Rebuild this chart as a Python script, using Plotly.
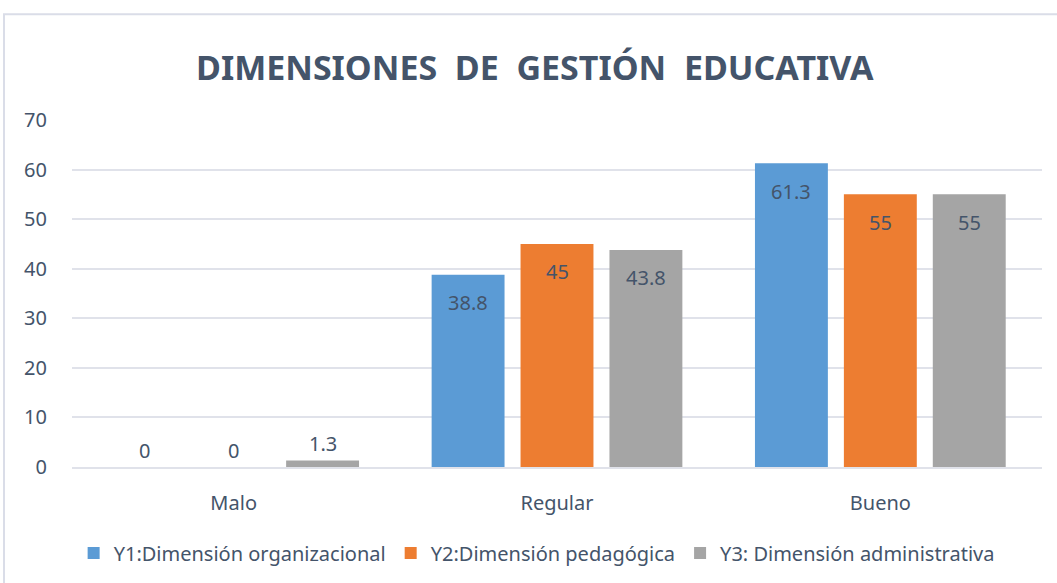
import plotly.graph_objects as go

categories = ["Malo", "Regular", "Bueno"]
series_names = ["Y1:Dimensión organizacional", "Y2:Dimensión pedagógica", "Y3: Dimensión administrativa"]
y1_values = [0, 38.8, 61.3]
y2_values = [0, 45, 55]
y3_values = [1.3, 43.8, 55]
y_ticks = [0, 10, 20, 30, 40, 50, 60, 70]

colors = ["#5B9BD5", "#ED7D31", "#A5A5A5"]
FONT = "Noto Sans"
LABEL_COLOR = "#44546A"
TICK_COLOR = "#44546A"

fig = go.Figure()
all_values = [y1_values, y2_values, y3_values]
for name, vals, col in zip(series_names, all_values, colors):
    fig.add_trace(go.Bar(
        x=categories, y=vals, name=name,
        marker=dict(color=col, line=dict(width=0)),
    ))

# data labels (Excel style: inside near top, outside for tiny bars)
slot_px = 89
for i, vals in enumerate(all_values):
    for cat, v in zip(categories, vals):
        inside = v >= 5
        fig.add_annotation(
            x=cat, y=v, xref="x", yref="y", text=str(v), showarrow=False,
            xshift=(i - 1) * slot_px, yshift=-28 if inside else 17,
            yanchor="middle", xanchor="center",
            font=dict(family=FONT, size=20, color=LABEL_COLOR),
        )

fig.update_layout(
    width=1057, height=583,
    paper_bgcolor="white", plot_bgcolor="white",
    margin=dict(l=72, r=15, t=120, b=115),
    barmode="group", bargap=0.175, bargroupgap=0.18,
    title=dict(text="<b>DIMENSIONES  DE  GESTIÓN  EDUCATIVA</b>", x=0.506, xanchor="center",
               y=0.883, yanchor="middle",
               font=dict(family=FONT, size=34, color=LABEL_COLOR)),
    legend=dict(orientation="h", x=0.479, xanchor="center", y=-0.244, yanchor="middle",
                font=dict(family=FONT, size=20, color=LABEL_COLOR),
                itemwidth=30, traceorder="normal"),
    showlegend=True,
)
fig.update_yaxes(range=[0, 70], tickvals=y_ticks, showgrid=True, gridcolor="#E0E2EA", gridwidth=2,
                 zeroline=False, showline=False, ticks="", ticklabelstandoff=24,
                 tickfont=dict(family=FONT, size=20, color=TICK_COLOR))
fig.update_xaxes(showgrid=False, showline=True, linecolor="#E0E2EA", linewidth=2, ticks="",
                 ticklabelstandoff=17,
                 tickfont=dict(family=FONT, size=20, color=TICK_COLOR))

# chart border (outer frame of the original chart area)
fig.add_shape(type="rect", xref="paper", yref="paper",
              x0=(4 - 72) / 970, x1=(1062 - 72) / 970, y0=(468 - 595) / 348, y1=(468 - 14) / 348,
              line=dict(color="#DADDE8", width=2), fillcolor="rgba(0,0,0,0)", layer="below")

fig.write_html("out.html", config={"displayModeBar": False},
               post_script="document.body.style.margin='0';")
